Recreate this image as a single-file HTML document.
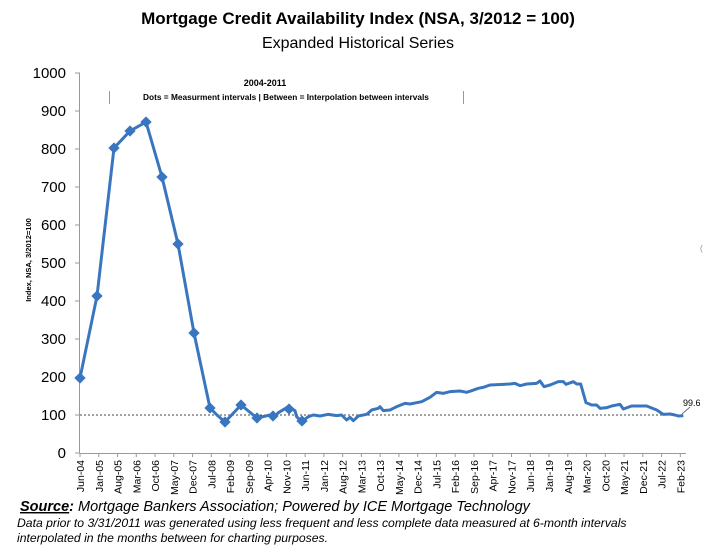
<!DOCTYPE html>
<html><head><meta charset="utf-8"><style>
html,body{margin:0;padding:0;background:#fff;}
body{width:717px;height:551px;overflow:hidden;font-family:"Liberation Sans",sans-serif;}
</style></head><body>
<svg id="s" width="717" height="551" xmlns="http://www.w3.org/2000/svg" font-family="Liberation Sans, sans-serif">
<text x="358" y="24" text-anchor="middle" font-size="17" font-weight="bold">Mortgage Credit Availability Index (NSA, 3/2012 = 100)</text>
<text x="358" y="48" text-anchor="middle" font-size="16">Expanded Historical Series</text>
<text x="265" y="86" text-anchor="middle" font-size="9" font-weight="bold">2004-2011</text>
<text x="286" y="100" text-anchor="middle" font-size="8.3" font-weight="bold">Dots = Measurment intervals  |  Between = Interpolation between intervals</text>
<line x1="109.5" y1="91" x2="109.5" y2="104" stroke="#999" stroke-width="1"/>
<line x1="463.5" y1="91" x2="463.5" y2="104" stroke="#999" stroke-width="1"/>
<text transform="translate(31,260) rotate(-90)" text-anchor="middle" font-size="7.5" font-weight="bold">Index, NSA, 3/2012=100</text>
<line x1="79.5" y1="73" x2="79.5" y2="453" stroke="#999"/>
<line x1="79.5" y1="453.5" x2="686" y2="453.5" stroke="#999"/>
<line x1="80" y1="415" x2="682" y2="415" stroke="#444" stroke-width="1" stroke-dasharray="2,2"/>
<g id="g"></g>
<text x="683" y="406" font-size="9">99.6</text>
<line x1="682" y1="414" x2="690" y2="407" stroke="#444" stroke-width="0.8"/>
<text x="700" y="251" font-size="8" fill="#888">(</text>
<text x="20" y="511" font-size="14.5" font-style="italic"><tspan font-weight="bold" text-decoration="underline">Source</tspan><tspan font-weight="bold">:</tspan> Mortgage Bankers Association; Powered by ICE Mortgage Technology</text>
<text x="17" y="527" font-size="12.2" font-style="italic">Data prior to 3/31/2011 was generated using less frequent and less complete data measured at 6-month intervals</text>
<text x="17" y="542" font-size="12.2" font-style="italic">interpolated in the months between for charting purposes.</text>
</svg>
<script>
var g=document.getElementById('g'),h='';
for(var v=0;v<=1000;v+=100){var y=453-v*0.38;
h+='<line x1="75" y1="'+y+'" x2="80" y2="'+y+'" stroke="#999"/>';
h+='<text x="66" y="'+(y+5)+'" text-anchor="end" font-size="15">'+v+'</text>';}
var labs="Jun-04 Jan-05 Aug-05 Mar-06 Oct-06 May-07 Dec-07 Jul-08 Feb-09 Sep-09 Apr-10 Nov-10 Jun-11 Jan-12 Aug-12 Mar-13 Oct-13 May-14 Dec-14 Jul-15 Feb-16 Sep-16 Apr-17 Nov-17 Jun-18 Jan-19 Aug-19 Mar-20 Oct-20 May-21 Dec-21 Jul-22 Feb-23".split(' ');
for(var i=0;i<labs.length;i++){var x=80+i*7*2.68;
h+='<line x1="'+x+'" y1="453" x2="'+x+'" y2="457" stroke="#999"/>';
h+='<text transform="translate('+(x+4)+',460) rotate(-90)" text-anchor="end" font-size="10.5">'+labs[i]+'</text>';}
var pts=[[80,378],[97,296],[114,148],[130,131],[146,122],[162,177],[178,244],[194,333],[210,408],[217,415],[225,422],[241,405],[257,418]];
var t=[[0,165],[10,175],[25,158],[55,140],[75,152],[80,170],[95,185],[115,170],[130,165],[150,168],[175,163],[200,167],[215,165],[230,180],[240,172],[250,182],[265,168],[290,163],[305,150],[325,145],[330,140],[340,152],[360,150],[380,140],[405,130],[420,132],[440,128],[455,125],[480,112],[500,97],[520,100],[540,95],[570,93],[590,97],[605,92],[625,85],[640,82],[660,75],[700,73],[720,72],[735,70],[750,77],[770,72],[800,70],[810,63],[822,80],[840,75],[865,65],[880,65],[888,73],[910,65],[920,72],[932,72],[948,128],[965,135],[980,135],[990,145],[1010,143],[1025,138],[1050,133],[1060,147],[1085,138],[1130,138],[1160,150],[1180,163],[1200,162],[1215,165],[1225,168],[1240,167]];
var all=pts.concat(t.map(function(p){return [270+p[0]/3,360+p[1]/3]}));
h+='<polyline fill="none" stroke="#3a76bf" stroke-width="3" stroke-linejoin="round" points="'+all.map(function(p){return p.join(',')}).join(' ')+'"/>';
var d=[[80,378],[97,296],[114,148],[130,131],[146,122],[162,177],[178,244],[194,333],[210,408],[225,422],[241,405],[257,418],[273,416],[289,409],[302,421]];
d.forEach(function(p){h+='<rect x="'+(p[0]-4)+'" y="'+(p[1]-4)+'" width="8" height="8" fill="#3a76bf" transform="rotate(45 '+p[0]+' '+p[1]+')"/>';});
g.innerHTML=h;
</script>
</body></html>
